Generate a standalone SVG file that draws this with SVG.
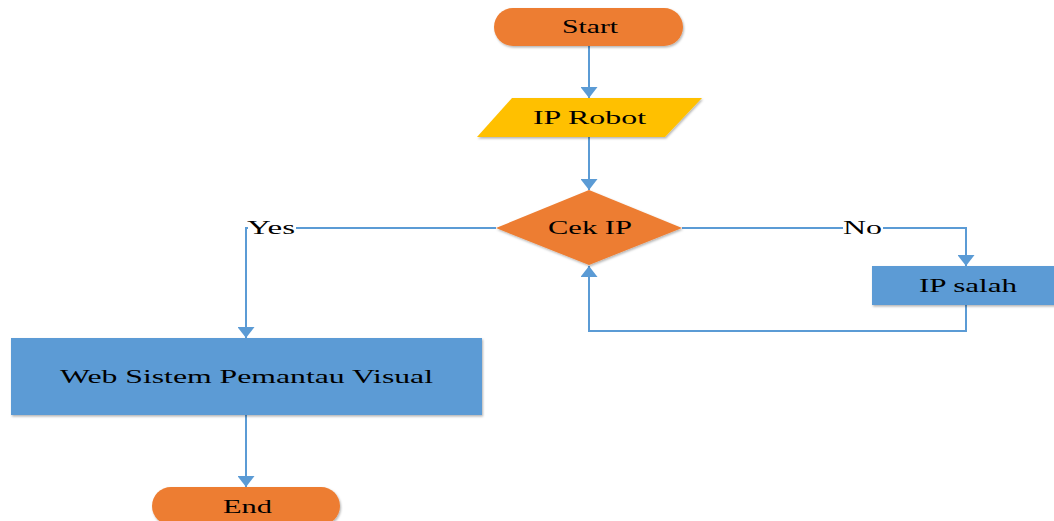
<svg xmlns="http://www.w3.org/2000/svg" width="1054" height="521" viewBox="0 0 1054 521">
  <style>
    .lbl { font-family: "Liberation Serif", "Times New Roman", serif; font-size: 19px; fill: #000; text-anchor: middle; }
    .orange { fill: #ED7D31; }
    .yellow { fill: #FFC000; }
    .blue { fill: #5B9BD5; }
    .shape { filter: url(#soft); }
    .wire { fill: none; stroke: #5B9BD5; stroke-width: 2; }
  </style>
  <defs>
    <filter id="soft" x="-10%" y="-20%" width="120%" height="150%">
      <feDropShadow dx="1" dy="1.5" stdDeviation="1.2" flood-color="#000" flood-opacity="0.3"/>
    </filter>
    <marker id="arrow" markerUnits="userSpaceOnUse" markerWidth="11" markerHeight="17" refX="11" refY="8.5" orient="auto-start-reverse" viewBox="0 0 11 17">
      <path d="M0,0 L11,8.5 L0,17 Z" fill="#5B9BD5"/>
    </marker>
  </defs>

  <!-- connectors -->
  <g id="connectors">
    <line class="wire" x1="589" y1="46" x2="589" y2="98" marker-end="url(#arrow)"/>
    <line class="wire" x1="589" y1="137" x2="589" y2="190" marker-end="url(#arrow)"/>
    <polyline class="wire" points="496,228 246,228 246,338" marker-end="url(#arrow)"/>
    <polyline class="wire" points="682,228 966,228 966,266" marker-end="url(#arrow)"/>
    <polyline class="wire" points="966,305 966,331 589,331 589,266" marker-end="url(#arrow)"/>
    <line class="wire" x1="246" y1="415" x2="246" y2="487" marker-end="url(#arrow)"/>
    <!-- branch labels -->
    <rect x="248" y="218" width="48" height="20" fill="#fff"/>
    <text class="lbl" x="271" y="234" textLength="48" lengthAdjust="spacingAndGlyphs">Yes</text>
    <rect x="843" y="218" width="40" height="20" fill="#fff"/>
    <text class="lbl" x="862.5" y="234" textLength="39" lengthAdjust="spacingAndGlyphs">No</text>
  </g>

  <g id="start">
    <rect class="orange shape" x="494" y="8" width="189" height="38" rx="19"/>
    <text class="lbl" x="590" y="33" textLength="56" lengthAdjust="spacingAndGlyphs">Start</text>
  </g>

  <g id="ip-robot">
    <polygon class="yellow shape" points="512,98 702,98 665,137 477,137"/>
    <text class="lbl" x="589.5" y="124" textLength="113" lengthAdjust="spacingAndGlyphs">IP Robot</text>
  </g>

  <g id="cek-ip">
    <polygon class="orange shape" points="589,190 682,228 589,265 496,228"/>
    <text class="lbl" x="590" y="234" textLength="84" lengthAdjust="spacingAndGlyphs">Cek IP</text>
  </g>

  <g id="ip-salah">
    <rect class="blue shape" x="872" y="266" width="186" height="39"/>
    <text class="lbl" x="968" y="292" textLength="98" lengthAdjust="spacingAndGlyphs">IP salah</text>
  </g>

  <g id="web">
    <rect class="blue shape" x="11" y="338" width="471" height="77"/>
    <text class="lbl" x="246.5" y="383" textLength="373" lengthAdjust="spacingAndGlyphs">Web Sistem Pemantau Visual</text>
  </g>

  <g id="end">
    <rect class="orange shape" x="152" y="487" width="188" height="38" rx="19"/>
    <text class="lbl" x="247.5" y="513" textLength="49" lengthAdjust="spacingAndGlyphs">End</text>
  </g>
</svg>
